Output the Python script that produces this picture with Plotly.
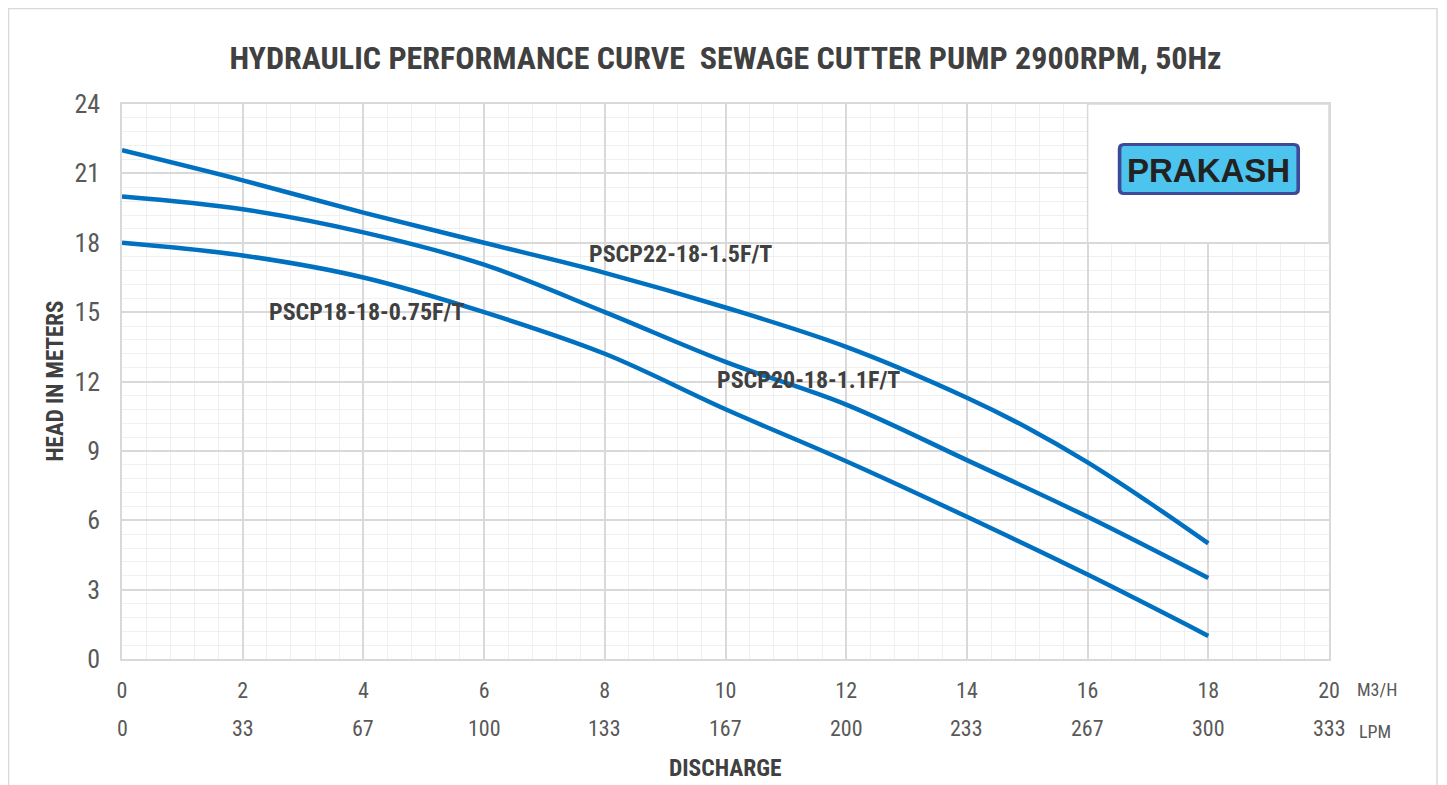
import plotly.graph_objects as go

# ---------------- data ----------------
flow_m3h_22 = [0, 2, 4, 6, 8, 10, 12, 14, 15, 16, 17, 18]
head_22 = [22.0, 20.7, 19.3, 18.0, 16.7, 15.2, 13.5, 11.3, 10.0, 8.5, 6.8, 5.0]

flow_m3h_20 = [0, 2, 4, 6, 8, 10, 12, 14, 16, 18]
head_20 = [20.0, 19.45, 18.45, 17.05, 15.0, 12.85, 11.0, 8.6, 6.15, 3.5]

flow_m3h_18 = [0, 2, 4, 6, 8, 10, 12, 14, 16, 18]
head_18 = [18.0, 17.45, 16.5, 15.0, 13.2, 10.8, 8.55, 6.15, 3.65, 1.0]

series_names = ["PSCP22-18-1.5F/T", "PSCP20-18-1.1F/T", "PSCP18-18-0.75F/T"]

x_ticks_m3h = [0, 2, 4, 6, 8, 10, 12, 14, 16, 18, 20]
x_ticks_lpm = ["0", "33", "67", "100", "133", "167", "200", "233", "267", "300", "333"]
y_ticks = [0, 3, 6, 9, 12, 15, 18, 21, 24]

title_text = "HYDRAULIC PERFORMANCE CURVE  SEWAGE CUTTER PUMP 2900RPM, 50Hz"
x_title = "DISCHARGE"
y_title = "HEAD IN METERS"
logo_text = "PRAKASH"

# ---------------- styling ----------------
NARROW = "Liberation Sans Narrow, Arial Narrow, Roboto Condensed, DejaVu Sans Condensed, sans-serif"
LINE_COLOR = "#0070C0"
DARK = "#404040"
TICK = "#595959"
MAJOR = "#D9D9D9"
MINOR = "#F0F0F0"

# page has an 8px body margin; figure sized to fit the 1447x785 window
W, H = 1439, 777
L, T = 114, 96
PW, PH = 1207, 555
R, B = W - L - PW, H - T - PH

fig = go.Figure()
for fx, hy, nm in [(flow_m3h_22, head_22, series_names[0]),
                   (flow_m3h_20, head_20, series_names[1]),
                   (flow_m3h_18, head_18, series_names[2])]:
    fig.add_trace(go.Scatter(x=fx, y=hy, mode="lines", name=nm,
                             line=dict(color=LINE_COLOR, width=4.5, shape="spline", smoothing=1.0),
                             hoverinfo="x+y+name"))

# curve labels
label_pos = [(9.26, 17.5), (11.37, 12.05), (4.06, 15.0)]
for nm, (lx, ly) in zip(series_names, label_pos):
    fig.add_annotation(x=lx, y=ly, text="<b>%s</b>" % nm, showarrow=False,
                       font=dict(family=NARROW, size=24, color=DARK))

# LPM row of tick labels
for xv, lab in zip(x_ticks_m3h, x_ticks_lpm):
    fig.add_annotation(x=xv, y=0, xref="x", yref="paper", yanchor="middle", yshift=-69,
                       text=lab, showarrow=False, font=dict(family=NARROW, size=22, color=TICK))
fig.add_annotation(x=20, y=0, xref="x", yref="paper", xanchor="left", yanchor="middle",
                   xshift=26, yshift=-30, text="M3/H", showarrow=False,
                   font=dict(family=NARROW, size=18, color=TICK))
fig.add_annotation(x=20, y=0, xref="x", yref="paper", xanchor="left", yanchor="middle",
                   xshift=28, yshift=-72, text="LPM", showarrow=False,
                   font=dict(family=NARROW, size=18, color=TICK))

# axis titles
fig.add_annotation(x=0.5, y=0, xref="paper", yref="paper", yanchor="middle", yshift=-109,
                   text="<b>%s</b>" % x_title, showarrow=False,
                   font=dict(family=NARROW, size=23.5, color=DARK))
fig.add_annotation(x=0, y=0.5, xref="paper", yref="paper", xanchor="center", xshift=-67,
                   text="<b>%s</b>" % y_title, textangle=-90, showarrow=False,
                   font=dict(family=NARROW, size=23, color=DARK))

# white logo panel inside plot corner
fig.add_shape(type="rect", xref="x", yref="y", x0=16, x1=20, y0=18, y1=24,
              fillcolor="white", line=dict(color=MAJOR, width=1.5), layer="between")


def rounded_rect(x0, x1, y0, y1, rx, ry):
    return ("M %f,%f L %f,%f Q %f,%f %f,%f L %f,%f Q %f,%f %f,%f L %f,%f Q %f,%f %f,%f "
            "L %f,%f Q %f,%f %f,%f Z" % (
                x0 + rx, y0, x1 - rx, y0, x1, y0, x1, y0 + ry,
                x1, y1 - ry, x1, y1, x1 - rx, y1,
                x0 + rx, y1, x0, y1, x0, y1 - ry,
                x0, y0 + ry, x0, y0, x0 + rx, y0))


px_x = 20 / float(PW)
px_y = 24 / float(PH)
fig.add_shape(type="path", xref="x", yref="y",
              path=rounded_rect(16.50, 19.52, 20.06, 22.31, 6 * px_x, 6 * px_y),
              fillcolor="#3D4A9A", line=dict(width=0), layer="above")
fig.add_shape(type="path", xref="x", yref="y",
              path=rounded_rect(16.56, 19.46, 20.19, 22.18, 3 * px_x, 3 * px_y),
              fillcolor="#4CC4EE", line=dict(width=0), layer="above")
fig.add_annotation(x=18.0, y=21.13, xref="x", yref="y", text="<b>%s</b>" % logo_text,
                   showarrow=False, font=dict(family="Liberation Sans, Arial, sans-serif", size=33, color="#222222"))

# outer chart border
fig.add_shape(type="rect", xref="paper", yref="paper",
              x0=(0.5 - L) / float(PW), x1=(1429 - L) / float(PW),
              y0=(T + PH - 800) / float(PH), y1=(T + PH - 0.5) / float(PH),
              line=dict(color=MAJOR, width=1.5), fillcolor="rgba(0,0,0,0)", layer="below")

fig.update_layout(
    width=W, height=H,
    margin=dict(l=L, r=R, t=T, b=B),
    paper_bgcolor="white", plot_bgcolor="white",
    showlegend=False,
    title=dict(text="<b>%s</b>" % title_text, x=0.5, xref="paper", xanchor="center",
               y=1 - 50 / float(H), yanchor="middle",
               font=dict(family=NARROW, size=32, color=DARK)),
)
fig.update_xaxes(range=[0, 20], tickvals=x_ticks_m3h, ticktext=[str(v) for v in x_ticks_m3h],
                 showgrid=True, gridcolor=MAJOR, gridwidth=1.5,
                 minor=dict(dtick=0.4, showgrid=True, gridcolor=MINOR, gridwidth=1),
                 showline=True, linecolor=MAJOR, linewidth=1.5, mirror=True,
                 zeroline=False, ticks="", ticklabelstandoff=11,
                 tickfont=dict(family=NARROW, size=22, color=TICK))
fig.update_yaxes(range=[0, 24], tickvals=y_ticks,
                 showgrid=True, gridcolor=MAJOR, gridwidth=1.5,
                 minor=dict(dtick=0.6, showgrid=True, gridcolor=MINOR, gridwidth=1),
                 showline=True, linecolor=MAJOR, linewidth=1.5, mirror=True,
                 zeroline=False, ticks="", ticklabelstandoff=15,
                 tickfont=dict(family=NARROW, size=26, color=TICK))

fig.write_html("out.html")
